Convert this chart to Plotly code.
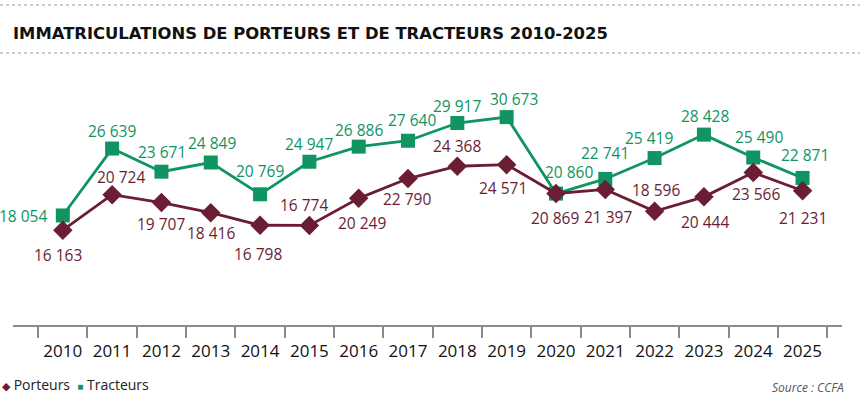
import plotly.graph_objects as go

years = ["2010", "2011", "2012", "2013", "2014", "2015", "2016", "2017",
         "2018", "2019", "2020", "2021", "2022", "2023", "2024", "2025"]
porteurs = [16163, 20724, 19707, 18416, 16798, 16774, 20249, 22790,
            24368, 24571, 20869, 21397, 18596, 20444, 23566, 21231]
tracteurs = [18054, 26639, 23671, 24849, 20769, 24947, 26886, 27640,
             29917, 30673, 20860, 22741, 25419, 28428, 25490, 22871]

title_text = "IMMATRICULATIONS DE PORTEURS ET DE TRACTEURS 2010-2025"
source_text = "Source : CCFA"

# styling: label pixel offsets (dx, dy up) per point
tr_off = [(-40, -1), (0, 18), (1, 20), (1, 20), (0, 23), (0, 18), (0, 17), (4, 21),
          (0, 17), (7, 18), (13, 22), (0, 26), (-6, 20), (1, 19), (6, 21), (2, 23)]
po_off = [(-5, -25), (9, 18), (0, -21), (0, -20), (-2, -29), (-5, 20), (3, -25), (-1, -20),
          (0, 20), (-4, -23), (-1, -24), (3, -28), (1, 21), (1, -25), (3, -21), (0, -27)]

GREEN = "#0f9462"
MAROON = "#6b1d34"

W, H = 860, 397
L, R, T, B = 13, 18, 60, 72
PW, PH = W - L - R, H - T - B


def fmt(v):
    return f"{v:,}".replace(",", " ")


fig = go.Figure()
fig.add_trace(go.Scatter(
    x=years, y=tracteurs, mode="lines+markers", name="Tracteurs",
    line=dict(color=GREEN, width=2.8),
    marker=dict(symbol="square", size=14, color=GREEN),
    showlegend=False, hoverinfo="x+y"))
fig.add_trace(go.Scatter(
    x=years, y=porteurs, mode="lines+markers", name="Porteurs",
    line=dict(color=MAROON, width=2.8),
    marker=dict(symbol="diamond", size=15, color=MAROON),
    showlegend=False, hoverinfo="x+y"))

annotations = []
for i, (v, (dx, dy)) in enumerate(zip(tracteurs, tr_off)):
    annotations.append(dict(x=i, y=v, xref="x", yref="y", text=fmt(v), showarrow=False,
                            xshift=dx, yshift=dy, xanchor="center", yanchor="middle",
                            font=dict(family="Open Sans", size=15.5, color=GREEN)))
for i, (v, (dx, dy)) in enumerate(zip(porteurs, po_off)):
    annotations.append(dict(x=i, y=v, xref="x", yref="y", text=fmt(v), showarrow=False,
                            xshift=dx, yshift=dy, xanchor="center", yanchor="middle",
                            font=dict(family="Open Sans", size=15.5, color=MAROON)))

# legend line
annotations.append(dict(
    x=(0 - L) / PW, y=(T + PH - 384) / PH, xref="paper", yref="paper",
    xanchor="left", yanchor="middle", showarrow=False,
    text=(f'<span style="color:{MAROON};font-size:11px">◆</span> Porteurs  '
          f'<span style="color:{GREEN};font-size:10px">■</span> Tracteurs'),
    font=dict(family="Open Sans", size=14, color="#222222")))
# source
annotations.append(dict(
    x=(846 - L) / PW, y=(T + PH - 387) / PH, xref="paper", yref="paper",
    xanchor="right", yanchor="middle", showarrow=False,
    text=f"<i>{source_text}</i>",
    font=dict(family="Open Sans", size=12, color="#555555")))

shapes = []
for py in (5, 53):
    shapes.append(dict(type="line", xref="paper", yref="paper",
                       x0=(0 - L) / PW, x1=(W - L) / PW,
                       y0=(T + PH - py) / PH, y1=(T + PH - py) / PH,
                       line=dict(color="#9a9a9a", width=1, dash="dot")))

fig.update_layout(
    width=W, height=H,
    margin=dict(l=L, r=R, t=T, b=B, pad=0),
    paper_bgcolor="white", plot_bgcolor="white",
    title=dict(text=f"<b>{title_text}</b>", x=L / W, xanchor="left",
               y=1 - 33 / H, yanchor="middle",
               font=dict(family="DejaVu Sans", size=16.4, color="#111111")),
    xaxis=dict(type="category", range=[-1.01, 15.8], tickson="boundaries",
               ticks="outside", ticklen=11, tickwidth=1.5, tickcolor="#8a8a8a",
               showline=True, linecolor="#8a8a8a", linewidth=1.5,
               showgrid=False, zeroline=False,
               tickfont=dict(family="Open Sans", size=17, color="#111111"),
               ticklabelstandoff=10),
    yaxis=dict(range=[4000, 38000], visible=False, showgrid=False, zeroline=False),
    annotations=annotations, shapes=shapes,
    showlegend=False,
)

fig.write_html("out.html", config={"displayModeBar": False},
               post_script="document.body.style.margin='0';document.body.style.overflow='hidden';")
